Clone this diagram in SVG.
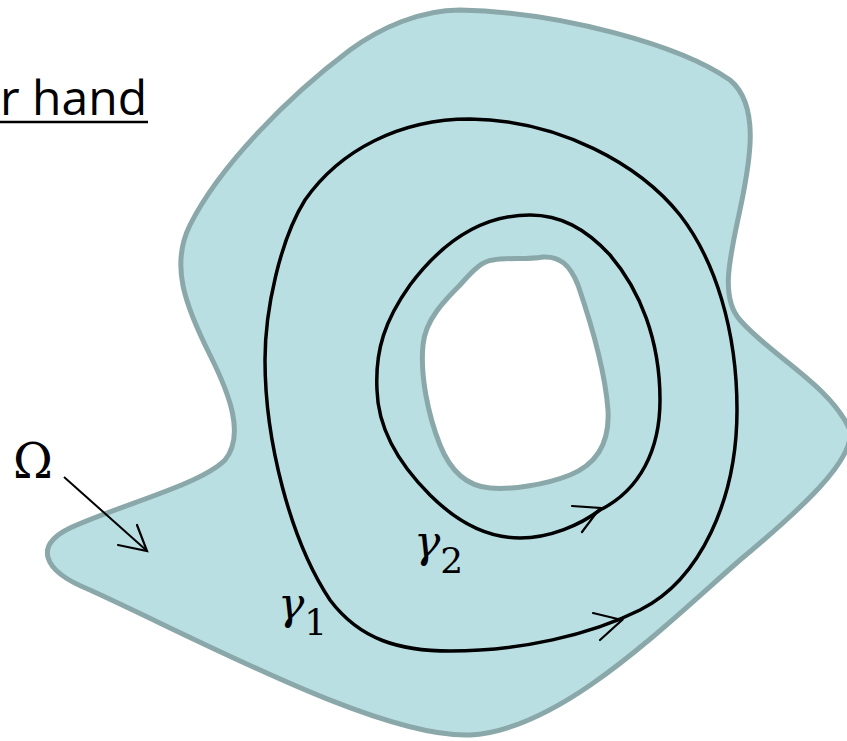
<svg xmlns="http://www.w3.org/2000/svg" width="847" height="741" viewBox="0 0 847 741">
<style>
.region{fill:#b9dfe3;stroke:#8aa8aa;stroke-width:5;stroke-linejoin:round}
.hole{fill:#ffffff;stroke:#8aa8aa;stroke-width:5}
.curve{fill:none;stroke:#000;stroke-width:3.5}
.head{fill:none;stroke:#000;stroke-width:2.2;stroke-linecap:round;stroke-linejoin:miter}
.thin{fill:none;stroke:#000;stroke-width:2}
.math{font-family:"DejaVu Serif","Liberation Serif",serif;fill:#000}
.sub{font-style:normal;font-size:36px}
.title{font-family:"Open Sans","Noto Sans",sans-serif;font-size:48px;fill:#000}
</style>
<rect width="847" height="741" fill="#fff"/>
<g id="title">
<text class="title" x="0" y="115">r hand</text>
<line x1="0" y1="122" x2="148" y2="122" stroke="#000" stroke-width="2.5"/>
</g>
<g id="omega-region">
<path class="region" d="M 460,10 C 560,12 680,45 730,80 C 760,105 750,160 742,200 C 732,250 718,295 740,320 C 770,355 830,385 850,430 C 855,460 800,510 740,560 C 660,630 560,730 470,735 C 380,738 200,640 90,590 C 40,570 35,545 70,528 C 120,505 200,485 225,460 C 245,435 230,395 210,355 C 185,305 170,265 190,225 C 220,165 290,95 350,50 C 380,28 420,10 460,10 Z"/>
<path class="hole" d="M 493,260 C 510,257 525,260 543,257 C 560,256 570,265 578,285 C 590,320 605,370 608,410 C 610,445 595,465 570,475 C 545,485 510,490 490,488 C 465,486 450,470 440,445 C 428,415 420,375 423,345 C 425,320 445,300 460,285 C 475,268 483,261 493,260 Z"/>
</g>
<g id="gamma1">
<path class="curve" d="M 470,119 C 400,119 340,150 305,200 C 280,240 265,310 265,360 C 265,440 290,540 330,600 C 360,640 400,651 450,651 C 520,651 590,635 640,610 C 700,580 737,500 737,410 C 737,330 715,260 680,215 C 640,165 560,120 470,119 Z"/>
<text class="math" x="278" y="619" font-size="44" font-style="italic">γ<tspan class="sub" dy="16">1</tspan></text>
</g>
<g id="gamma2">
<path class="curve" d="M 530,215 C 480,215 440,245 410,285 C 385,320 375,350 377,390 C 378,430 400,465 430,495 C 460,525 490,538 520,538 C 550,538 580,525 600,510 C 640,490 660,450 660,400 C 660,340 640,290 610,255 C 585,228 560,215 530,215 Z"/>
<text class="math" x="414" y="557" font-size="44" font-style="italic">γ<tspan class="sub" dy="16">2</tspan></text>
</g>
<g id="omega-label">
<text class="math" x="13" y="478" font-size="48">Ω</text>
</g>
<g id="connectors">
<line class="thin" x1="64" y1="477" x2="146" y2="550"/>
<path class="head" d="M 137,525 L 147,551 L 118,545"/>
<path class="head" d="M 572,506 L 600,508 L 582,532"/>
<path class="head" d="M 593,613 L 622,620 L 600,640"/>
</g>
</svg>
